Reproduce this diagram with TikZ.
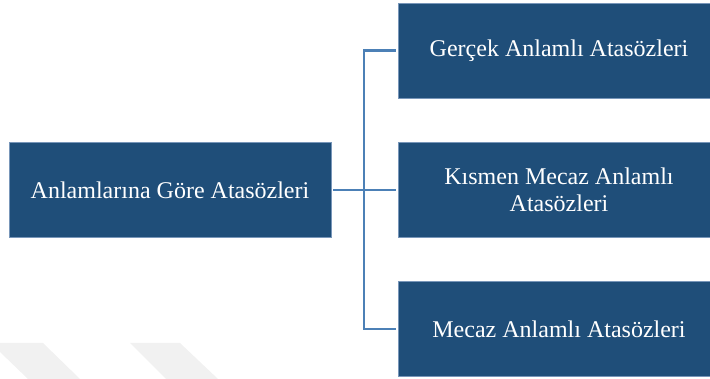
\documentclass[tikz,border=0pt]{standalone}
\usepackage{fontspec}
\setmainfont{Liberation Serif}
\definecolor{boxblue}{RGB}{31,78,121}
\definecolor{boxedge}{RGB}{120,150,185}
\definecolor{linkblue}{RGB}{76,128,182}
\definecolor{markgray}{RGB}{241,241,241}
\tikzset{
  topic/.style={rectangle, fill=boxblue, draw=boxedge, line width=0.8pt, text=white,
    minimum width=322pt, minimum height=95pt, align=center, inner sep=0pt,
    font=\fontsize{24}{27}\selectfont},
  link/.style={draw=linkblue, line width=2.5pt}
}

\begin{document}
\begin{tikzpicture}[x=1pt, y=-1pt]
\useasboundingbox (0,0) rectangle (710,379);
% Watermark
    \fill[markgray] (0,343) -- (43,343) -- (80,379) -- (28,379) -- (0,352) -- cycle;
    \fill[markgray] (130,343) -- (180,343) -- (218,379) -- (166,379) -- cycle;
% Boxes
    \node[topic] (root) at (170,190) {Anlamlarına Göre Atasözleri};
    \node[topic] (gercek) at (559,50.5) {Gerçek Anlamlı Atasözleri};
    \node[topic] (kismen) at (559,190) {Kısmen Mecaz Anlamlı\\Atasözleri};
    \node[topic] (mecaz) at (559,329) {Mecaz Anlamlı Atasözleri};
% Links
    \coordinate (split) at (364,190);
    \draw[link, shorten <=2pt] (root) -- (split);
    \draw[link, shorten >=2pt] (split) |- (gercek);
    \draw[link, shorten >=2pt] (split) -- (kismen);
    \draw[link, shorten >=2pt] (split) |- (mecaz);
\end{tikzpicture}
\end{document}
